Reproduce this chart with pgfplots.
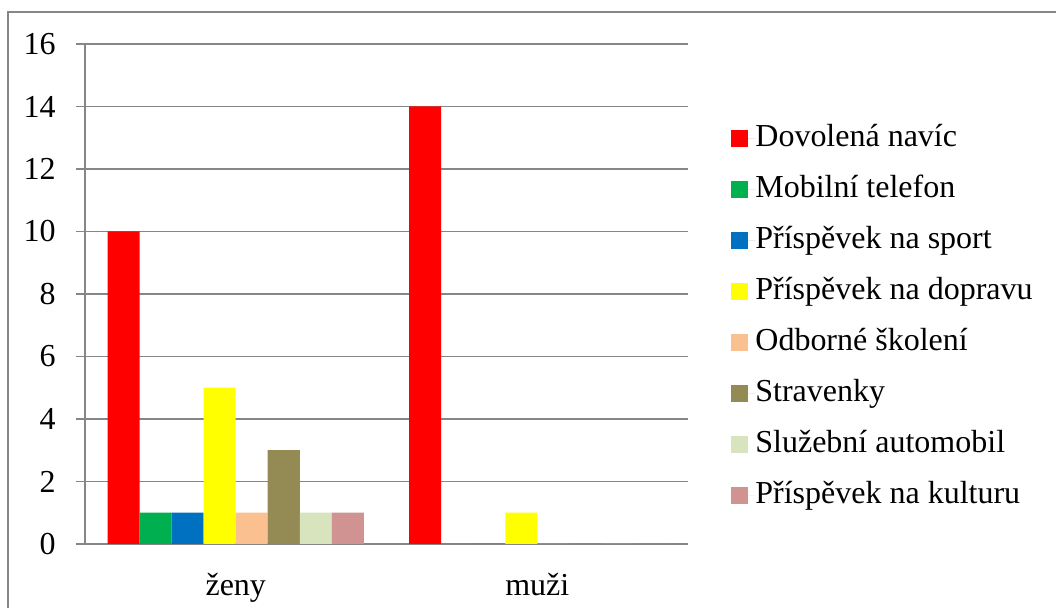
\documentclass[border=0pt]{standalone}
\usepackage{pgfplots}
\pgfplotsset{compat=1.18}
\usepackage{fontspec}
\setmainfont{LiberationSerif}[Extension=.ttf, UprightFont=*-Regular, BoldFont=*-Bold, ItalicFont=*-Italic]

\definecolor{cRed}{HTML}{FF0000}
\definecolor{cGreen}{HTML}{00B050}
\definecolor{cBlue}{HTML}{0070C0}
\definecolor{cYellow}{HTML}{FFFF00}
\definecolor{cPeach}{HTML}{FAC090}
\definecolor{cOlive}{HTML}{948A54}
\definecolor{cLight}{HTML}{D7E4BD}
\definecolor{cPink}{HTML}{D09392}
\definecolor{cGrid}{HTML}{868686}

\begin{document}
\begin{tikzpicture}
% 1 px of the reference = 0.5pt
\path[use as bounding box] (0,0) rectangle (528pt,304pt);
\draw[cGrid, line width=1pt] (4pt,-20pt) -- (4pt,298pt) -- (560pt,298pt);
\begin{axis}[
  at={(42.5pt,32pt)}, anchor=south west,
  scale only axis,
  width=301.5pt, height=250pt,
  ybar=0pt, bar width=16pt,
  xmin=-0.5, xmax=1.5,
  ymin=0, ymax=16,
  ytick={0,2,...,16},
  xtick={0,1},
  xticklabels={ženy, muži},
  xtick style={draw=none},
  minor xtick={-0.5,0.5,1.5},
  minor tick length=4.5pt,
  major tick length=4.5pt,
  tick align=outside,
  tick pos=left,
  ymajorgrids,
  grid style={cGrid, line width=0.75pt},
  axis line style={cGrid, line width=0.75pt},
  tick style={cGrid, line width=0.75pt},
  axis x line*=bottom,
  axis y line*=left,
  font=\fontsize{16}{19}\selectfont,
  /pgf/number format/assume math mode=true,
  yticklabel style={anchor=east, inner sep=0pt, xshift=-10pt},
  xticklabel style={anchor=north, inner sep=0pt, yshift=-10pt},
  legend style={
    at={(axis description cs:1.0713,0.84)}, anchor=north west,
    draw=none, fill=none, inner sep=0pt,
    row sep=11pt,
    nodes={inner sep=0pt, text height=11pt, text depth=3.5pt, anchor=west},
    font=\fontsize{16}{19}\selectfont,
  },
  legend cell align=left,
  legend image code/.code={\fill[#1] (0pt,-4.25pt) rectangle (8.5pt,4.25pt); \path (0pt,0pt) -- (12pt,0pt);},
]
\addplot[fill=cRed, draw=none] coordinates {(0,10) (1,14)};
\addlegendentry{Dovolená navíc}
\addplot[fill=cGreen, draw=none] coordinates {(0,1) (1,0)};
\addlegendentry{Mobilní telefon}
\addplot[fill=cBlue, draw=none] coordinates {(0,1) (1,0)};
\addlegendentry{Příspěvek na sport}
\addplot[fill=cYellow, draw=none] coordinates {(0,5) (1,1)};
\addlegendentry{Příspěvek na dopravu}
\addplot[fill=cPeach, draw=none] coordinates {(0,1) (1,0)};
\addlegendentry{Odborné školení}
\addplot[fill=cOlive, draw=none] coordinates {(0,3) (1,0)};
\addlegendentry{Stravenky}
\addplot[fill=cLight, draw=none] coordinates {(0,1) (1,0)};
\addlegendentry{Služební automobil}
\addplot[fill=cPink, draw=none] coordinates {(0,1) (1,0)};
\addlegendentry{Příspěvek na kulturu}
\end{axis}
\end{tikzpicture}
\end{document}
